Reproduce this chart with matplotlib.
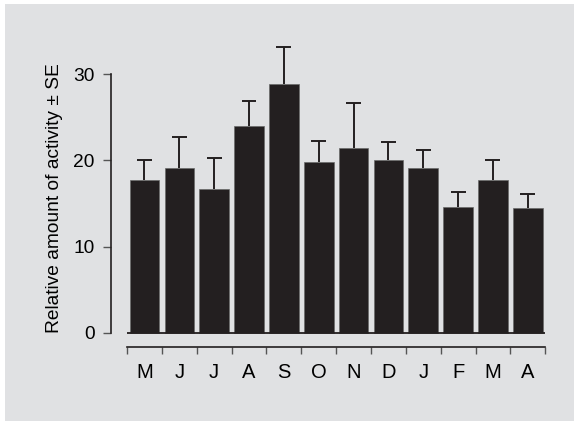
import matplotlib.pyplot as plt
import numpy as np
from matplotlib.patches import Rectangle

plt.rcParams['font.family'] = ['Liberation Sans', 'DejaVu Sans']

months = ['M', 'J', 'J', 'A', 'S', 'O', 'N', 'D', 'J', 'F', 'M', 'A']
activity = [17.7, 19.1, 16.7, 24.0, 28.8, 19.85, 21.4, 20.0, 19.1, 14.65, 17.7, 14.5]
se = [2.3, 3.6, 3.6, 2.9, 4.3, 2.35, 5.25, 2.1, 2.15, 1.7, 2.3, 1.65]

ink = '#231f20'
bg = '#e0e1e3'

fig = plt.figure(figsize=(5.74, 4.21), dpi=100)
fig.patch.set_facecolor('white')
fig.patches.append(Rectangle((5 / 574, 0), 1, 1 - 4 / 421, transform=fig.transFigure,
                             facecolor=bg, edgecolor='none', zorder=-10))

ax = fig.add_axes([0.1934, 0.1765, 0.7625, 0.7294])
ax.set_facecolor('none')

x = np.arange(len(months))
top = np.array(activity) + np.array(se)
ax.bar(x, activity, width=0.85, color=ink, edgecolor='#6a6a6a', linewidth=0.5, zorder=3)

# upper-only error bars: stem from bar top, single cap
ax.vlines(x, activity, top, color=ink, linewidth=1.4, zorder=2)
ax.hlines(top, x - 0.215, x + 0.215, color=ink, linewidth=1.4, zorder=2)
ax.hlines(0, -0.5, 11.5, color=ink, linewidth=1.3, zorder=4)

ax.set_xlim(-0.96, 11.6)
ax.set_ylim(-1.59, 34)

for side in ['top', 'right']:
    ax.spines[side].set_visible(False)
ax.spines['left'].set_bounds(0, 30)
ax.spines['bottom'].set_bounds(-0.5, 11.5)
for side in ['left', 'bottom']:
    ax.spines[side].set_color(ink)
    ax.spines[side].set_linewidth(1.2)

ax.set_yticks([0, 10, 20, 30])
ax.tick_params(axis='y', direction='out', length=5.8, width=1.0, color='#555555',
               pad=6, labelsize=13.8, labelcolor='black')

# boundary ticks on the x axis, month names centred under the bars
ax.set_xticks(np.arange(-0.5, 12, 1))
ax.set_xticklabels([])
ax.set_xticks(x, minor=True)
ax.set_xticklabels(months, minor=True)
ax.tick_params(axis='x', which='major', direction='out', length=5.2, width=1.0, color='#555555')
ax.tick_params(axis='x', which='minor', length=0, pad=12, labelsize=14.5, labelcolor='black')

fig.text(55 / 574, 1 - 198 / 421, 'Relative amount of activity \u00b1 SE', rotation=90,
         ha='center', va='center', fontsize=13.8, color='black')

fig.savefig('out.png', dpi=100)
